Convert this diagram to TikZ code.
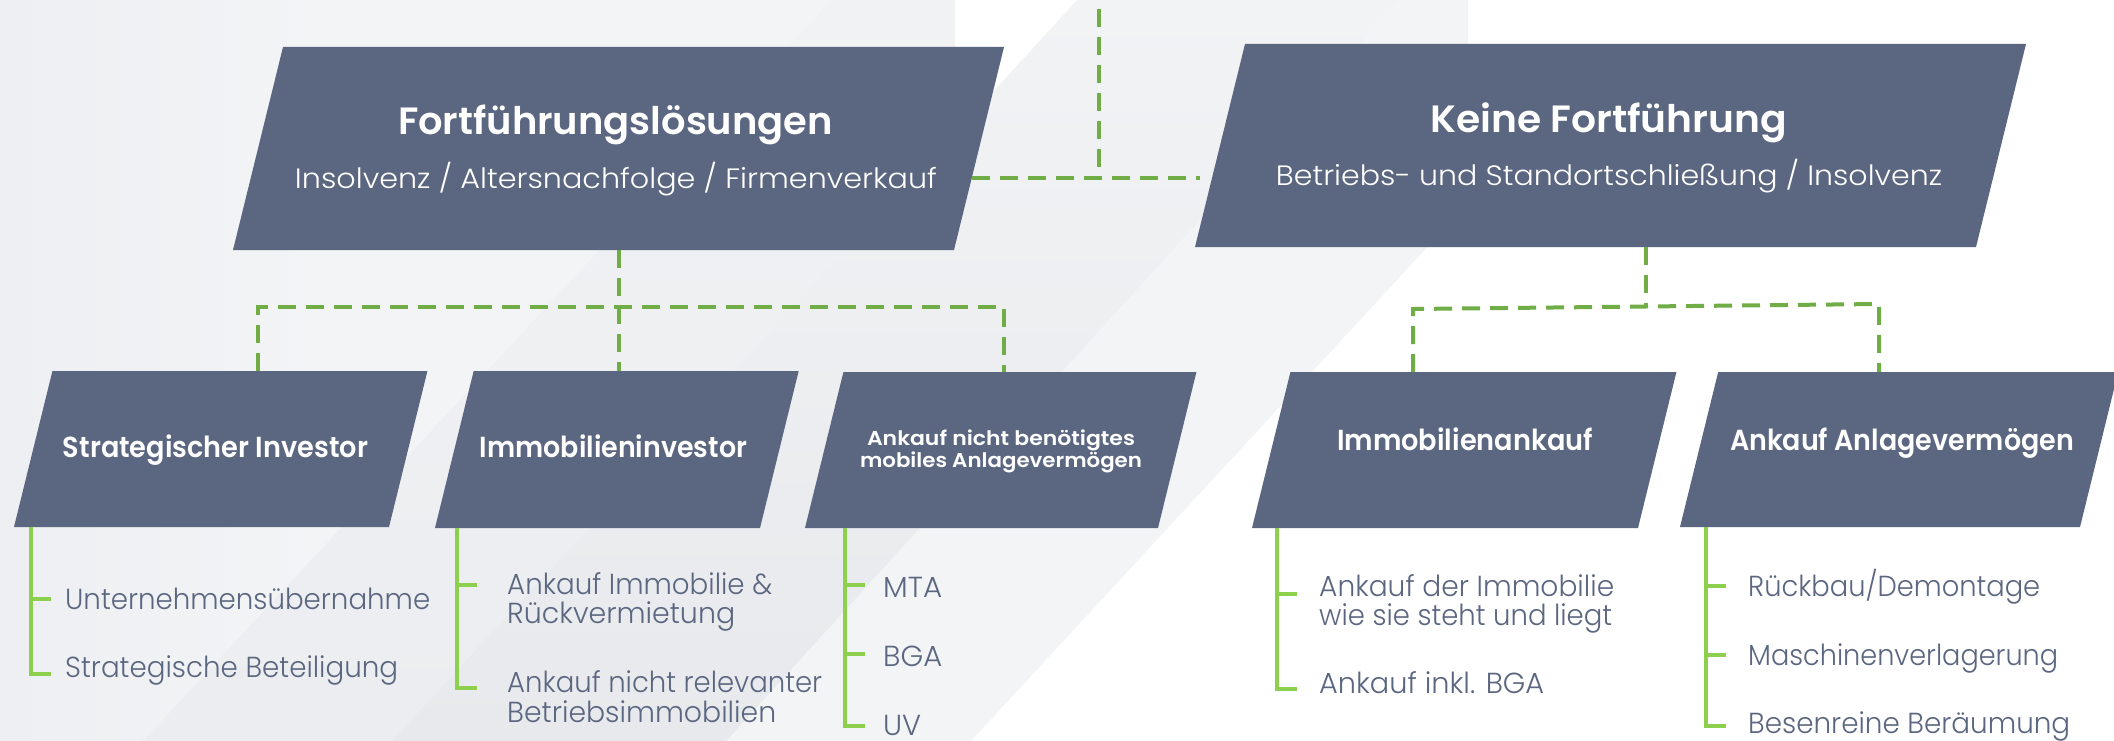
\documentclass[tikz,border=0pt]{standalone}
\usepackage{fontspec}
\usepackage{graphicx}
\setmainfont{Poppins}
\IfFontExistsTF{Poppins Light}{\newfontfamily\flight{Poppins Light}}{\newfontfamily\flight{Poppins}}
\IfFontExistsTF{Poppins SemiBold}{\newfontfamily\fsemi{Poppins SemiBold}}{\newfontfamily\fsemix{Poppins}\def\fsemi{\fsemix\bfseries}}
\usetikzlibrary{calc}
\definecolor{boxc}{HTML}{5B6680}
\definecolor{itemc}{HTML}{5B6680}
\definecolor{dgreen}{HTML}{70AD47}
\definecolor{lgreen}{HTML}{8DD04E}
\definecolor{bgA}{HTML}{F3F4F6}
\definecolor{bgL}{HTML}{EEEFF2}
\definecolor{bgB1}{HTML}{F1F2F4}
\definecolor{bgB2}{HTML}{ECEDF0}
\definecolor{bgC1}{HTML}{F2F3F5}
\definecolor{bgC2}{HTML}{E8E9EC}
\newcommand{\fitw}[2]{\resizebox{#1pt}{\height}{#2}}
\newcommand{\mypbox}[5]{%
  \fill[boxc] ({#2+0.2463*(#4-#3)},#3) -- ({#2+0.2463*(#4-#3)+#5},#3) -- ({#2+#5},#4) -- (#2,#4) -- cycle;
  \node[boxn, minimum width={#5+0.2463*(#4-#3)}, minimum height={#4-#3}] (#1) at ({#2+0.5*(#5+0.2463*(#4-#3))},{0.5*(#3+#4)}) {};
}
\tikzset{
  boxn/.style={inner sep=0pt, outer sep=0pt, draw=none},
  dsh/.style={draw=dgreen, line width=4pt, dash pattern=on 18pt off 10pt},
  sol/.style={draw=lgreen, line width=4pt},
  ttl/.style={text=white, inner sep=0pt, anchor=base, font=\fsemi\fontsize{38}{44}\selectfont},
  sub/.style={text=white, inner sep=0pt, anchor=base, font=\flight\fontsize{28}{34}\selectfont},
  btl/.style={text=white, inner sep=0pt, anchor=base, font=\fsemi\fontsize{29}{34}\selectfont},
  bsm/.style={text=white, inner sep=0pt, anchor=base, font=\fsemi\fontsize{20}{24}\selectfont},
  itm/.style={text=itemc, inner sep=0pt, anchor=base west, font=\flight\fontsize{29}{34}\selectfont}
}
\begin{document}
\begin{tikzpicture}[x=1pt,y=-1pt]
\useasboundingbox (0,0) rectangle (2114,741);
% background
\fill[white] (0,0) rectangle (2114,741);
\fill[bgA] (0,0) -- (1468,0) -- (1468,203) -- (971,741) -- (0,741) -- cycle;
\shade[left color=bgL, right color=bgA] (0,0) rectangle (320,741);
\shade[top color=bgB1, bottom color=bgB2] (832,0) -- (1077,0) -- (392,741) -- (143,741) -- cycle;
\shade[top color=bgC1, bottom color=bgC2] (1077,0) -- (1400,0) -- (726,741) -- (392,741) -- cycle;
\fill[white] (955,0) -- (1077,0) -- (955,133) -- cycle;

% boxes
\mypbox{top1}{233}{47}{250}{721}
\mypbox{top2}{1195}{44}{247}{781}
\mypbox{b1}{14}{371}{527}{375}
\mypbox{b2}{435}{371}{528}{325}
\mypbox{b3}{805}{372}{528}{353}
\mypbox{b4}{1252}{372}{528}{386}
\mypbox{b5}{1680}{372}{527}{400}

% titles
\node[ttl] (t1a) at (615.5,135) {\fitw{435}{Fortführungslösungen}};
\node[sub] (t1b) at (616,189) {\fitw{642}{Insolvenz / Altersnachfolge / Firmenverkauf}};
\node[ttl] (t2a) at (1608.5,132) {\fitw{357}{Keine Fortführung}};
\node[sub] (t2b) at (1609,185) {\fitw{666}{Betriebs- und Standortschließung / Insolvenz}};
\node[btl] (l1) at (215.5,457) {\fitw{305}{Strategischer Investor}};
\node[btl] (l2) at (613.5,457) {\fitw{267}{Immobilieninvestor}};
\node[bsm] (l3a) at (1001,445) {\fitw{268}{Ankauf nicht benötigtes}};
\node[bsm] (l3b) at (1001,467) {\fitw{282}{mobiles Anlagevermögen}};
\node[btl] (l4) at (1465,450) {\fitw{256}{Immobilienankauf}};
\node[btl] (l5) at (1902,450) {\fitw{344}{Ankauf Anlagevermögen}};

% items
\node[itm] (i11) at (65,609) {\fitw{365}{Unternehmensübernahme}};
\node[itm] (i12) at (65,677) {\fitw{333}{Strategische Beteiligung}};
\node[itm] (i21a) at (507,594) {\fitw{265}{Ankauf Immobilie \&}};
\node[itm] (i21b) at (507,623) {\fitw{228}{Rückvermietung}};
\node[itm] (i22a) at (507,692) {\fitw{315}{Ankauf nicht relevanter}};
\node[itm] (i22b) at (507,722) {\fitw{269}{Betriebsimmobilien}};
\node[itm] (i31) at (883,597) {\fitw{59}{MTA}};
\node[itm] (i32) at (883,666) {\fitw{59}{BGA}};
\node[itm] (i33) at (883,735) {\fitw{38}{UV}};
\node[itm] (i41a) at (1319,596) {\fitw{295}{Ankauf der Immobilie}};
\node[itm] (i41b) at (1319,625) {\fitw{293}{wie sie steht und liegt}};
\node[itm] (i42) at (1319,693) {\fitw{225}{Ankauf inkl. BGA}};
\node[itm] (i51) at (1748,596) {\fitw{292}{Rückbau/Demontage}};
\node[itm] (i52) at (1748,665) {\fitw{310}{Maschinenverlagerung}};
\node[itm] (i53) at (1748,733) {\fitw{322}{Besenreine Beräumung}};

% dashed connectors
\coordinate (topin) at (1099,0);
\coordinate (h1) at ($(top1.north east)+(-32,131)$);
\coordinate (h2) at ($(top2.north west)+(5,134)$);
\draw[dsh, dash phase=19pt] (topin) -- (topin |- h1);
\draw[dsh] (h1) -- (h2);
\coordinate (jl) at ($(top1.south)+(0,57)$);
\draw[dsh] (top1.south) -- (top1.south |- b2.north);
\draw[dsh] ($(b1.north west)+(244,0)$) |- (jl) -| ($(b3.north west)+(199,0)$);
\coordinate (jr) at ($(top2.south)+(35,59)$);
\coordinate (jra) at ($(b4.north west)+(161,-63)$);
\coordinate (jrb) at ($(b5.north west)+(199,-68)$);
\draw[dsh] ($(top2.south)+(35,0)$) -- (jr);
\draw[dsh] ($(b4.north west)+(161,0)$) -- (jra) -- (jrb) -- ($(b5.north west)+(199,0)$);

% solid item lines
\draw[sol] ($(b1.south west)+(17,0)$) |- ++(20,147);
\draw[sol] ($(b1.south west)+(17,72)$) -- ++(20,0);
\draw[sol] ($(b2.south west)+(22,0)$) |- ++(20,160);
\draw[sol] ($(b2.south west)+(22,57)$) -- ++(20,0);
\draw[sol] ($(b3.south west)+(40,0)$) |- ++(20,198);
\draw[sol] ($(b3.south west)+(40,57)$) -- ++(20,0);
\draw[sol] ($(b3.south west)+(40,126)$) -- ++(20,0);
\draw[sol] ($(b4.south west)+(25,0)$) |- ++(20,161);
\draw[sol] ($(b4.south west)+(25,66)$) -- ++(20,0);
\draw[sol] ($(b5.south west)+(26,0)$) |- ++(20,199);
\draw[sol] ($(b5.south west)+(26,59)$) -- ++(20,0);
\draw[sol] ($(b5.south west)+(26,128)$) -- ++(20,0);
\end{tikzpicture}
\end{document}
